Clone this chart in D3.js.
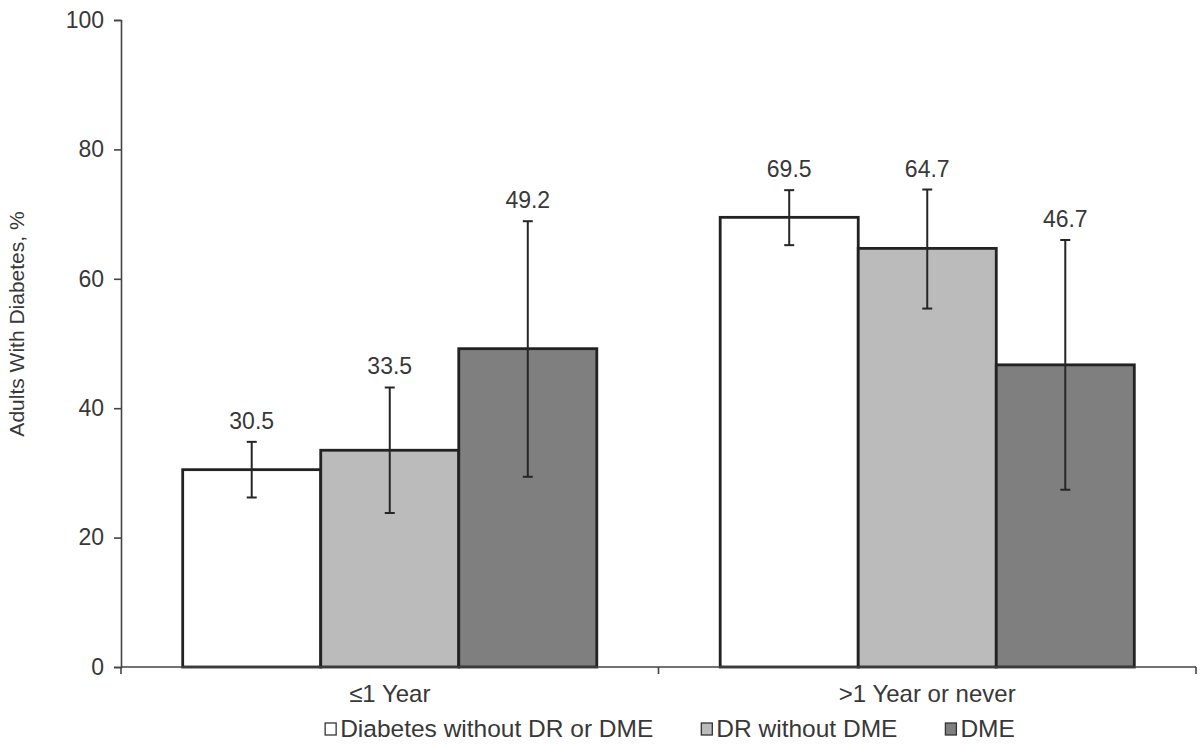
<!DOCTYPE html>
<html>
<head>
<meta charset="utf-8">
<script src="https://cdn.jsdelivr.net/npm/d3@7"></script>
<style>
  html, body { margin: 0; padding: 0; background: #fff; }
  svg { display: block; }
  text { font-family: "Liberation Sans", Arial, sans-serif; fill: #383838; }
</style>
</head>
<body>
<svg id="chart" width="1201" height="745"></svg>
<script>
// ---- data ----
const categories = ["\u22641 Year", ">1 Year or never"];
const series = ["Diabetes without DR or DME", "DR without DME", "DME"];
const values = [
  [30.5, 33.5, 49.2],
  [69.5, 64.7, 46.7]
];
const errLower = [
  [26.2, 23.8, 29.4],
  [65.2, 55.4, 27.4]
];
const errUpper = [
  [34.8, 43.2, 68.9],
  [73.7, 73.8, 66.0]
];
const yTicks = [0, 20, 40, 60, 80, 100];
const yTitle = "Adults With Diabetes, %";

// ---- layout ----
const colors = ["#ffffff", "#bbbbbb", "#7f7f7f"];
const svg = d3.select("#chart");
const plotLeft = 121, plotRight = 1196, plotTop = 20, plotBottom = 667;

const x0 = d3.scaleBand().domain(categories).range([plotLeft, plotRight]).padding(0);
const x1 = d3.scaleBand().domain(series).range([0, x0.bandwidth()])
  .paddingInner(0).paddingOuter(0.447);
const y = d3.scaleLinear().domain([0, 100]).range([plotBottom, plotTop]);

// bars
const groups = svg.append("g").selectAll("g")
  .data(categories).join("g")
  .attr("transform", d => `translate(${x0(d)},0)`);

groups.each(function(cat, ci) {
  const g = d3.select(this);
  series.forEach((s, si) => {
    const v = values[ci][si];
    g.append("rect")
      .attr("x", x1(s))
      .attr("y", y(v))
      .attr("width", x1.bandwidth())
      .attr("height", y(0) - y(v))
      .attr("fill", colors[si])
      .attr("stroke", "#222")
      .attr("stroke-width", 2.8);
  });
});

// error bars and labels
groups.each(function(cat, ci) {
  const g = d3.select(this);
  series.forEach((s, si) => {
    const cx = x1(s) + x1.bandwidth() / 2;
    const lo = errLower[ci][si], hi = errUpper[ci][si];
    g.append("line").attr("x1", cx).attr("x2", cx)
      .attr("y1", y(lo)).attr("y2", y(hi))
      .attr("stroke", "#262626").attr("stroke-width", 2);
    [lo, hi].forEach(e => {
      g.append("line").attr("x1", cx - 5).attr("x2", cx + 5)
        .attr("y1", y(e)).attr("y2", y(e))
        .attr("stroke", "#262626").attr("stroke-width", 2);
    });
    g.append("text")
      .attr("x", cx).attr("y", y(hi) - 13)
      .attr("text-anchor", "middle")
      .style("font-size", "23px")
      .text(values[ci][si].toFixed(1));
  });
});

// y axis
const yAxis = svg.append("g")
  .attr("transform", `translate(${plotLeft},0)`)
  .call(d3.axisLeft(y).tickValues(yTicks).tickSize(7).tickPadding(10).tickFormat(d3.format("d")));
yAxis.select(".domain").attr("stroke", "#444").attr("stroke-width", 1.6);
yAxis.selectAll(".tick line").attr("stroke", "#444").attr("stroke-width", 1.6);
yAxis.selectAll(".tick text").style("font-size", "23px").attr("fill", "#383838")
  .style("font-family", "'Liberation Sans', Arial, sans-serif");

// x axis: line and ticks at band boundaries
const xAxis = svg.append("g").attr("transform", `translate(0,${plotBottom})`);
xAxis.append("line").attr("x1", plotLeft).attr("x2", plotRight).attr("y1", 0).attr("y2", 0)
  .attr("stroke", "#444").attr("stroke-width", 1.6);
const bounds = categories.map(c => x0(c)).concat([x0(categories[categories.length - 1]) + x0.bandwidth()]);
xAxis.selectAll("line.tk").data(bounds).join("line").attr("class", "tk")
  .attr("x1", d => d).attr("x2", d => d).attr("y1", 0).attr("y2", 7)
  .attr("stroke", "#444").attr("stroke-width", 1.6);
xAxis.selectAll("text.cat").data(categories).join("text").attr("class", "cat")
  .attr("x", d => x0(d) + x0.bandwidth() / 2)
  .attr("y", 35)
  .attr("text-anchor", "middle")
  .style("font-size", "24px")
  .text(d => d);

// y title
svg.append("text")
  .attr("transform", `translate(24,${324}) rotate(-90)`)
  .attr("text-anchor", "middle")
  .style("font-size", "21px")
  .text(yTitle);

// legend
const legend = svg.append("g").attr("transform", "translate(0,737)");
const items = legend.selectAll("g").data(series).join("g");
items.append("rect")
  .attr("x", 0).attr("y", -14).attr("width", 11).attr("height", 12)
  .attr("fill", (d, i) => colors[i]).attr("stroke", "#333").attr("stroke-width", 1.3);
items.append("text").attr("x", 15).attr("y", 0)
  .style("font-size", "24.5px").text(d => d);
const gap = 48;
let widths = [];
items.each(function() { widths.push(this.getBBox().width); });
const total = d3.sum(widths) + gap * (widths.length - 1);
let cur = 670 - total / 2;
items.attr("transform", (d, i) => {
  const t = `translate(${cur},0)`;
  cur += widths[i] + gap;
  return t;
});
</script>
</body>
</html>
